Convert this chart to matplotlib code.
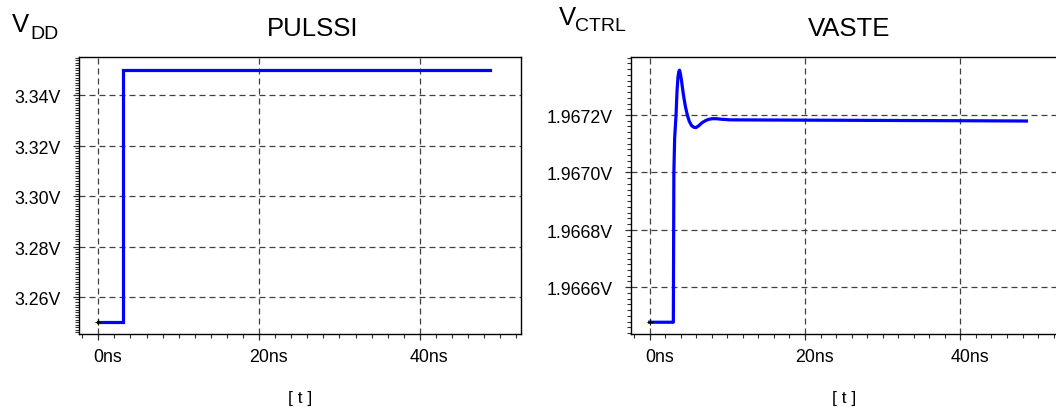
import matplotlib
matplotlib.use("Agg")
import matplotlib.pyplot as plt
from matplotlib.ticker import MultipleLocator, FixedLocator, FormatStrFormatter
from matplotlib.transforms import ScaledTranslation

plt.rcParams['font.family'] = ['Liberation Sans', 'DejaVu Sans']

# Supply pulse (ns, V)
t_pulse = [0.0, 3.1, 3.1, 48.7]
v_pulse = [3.25, 3.25, 3.35, 3.35]

# Control voltage response (ns, V)
t_ctrl = [0.0, 3.05, 3.12, 3.22, 3.40, 3.52, 3.64, 3.76, 3.85, 3.95, 4.10,
          4.35, 4.60, 4.85, 5.10, 5.40, 5.70, 5.97, 6.30, 6.70, 7.10, 7.50,
          8.00, 8.60, 9.30, 10.4, 20.0, 30.0, 40.0, 48.5]
v_ctrl = [1.966478, 1.966478, 1.967000, 1.967120, 1.967200, 1.967280,
          1.967330, 1.967352, 1.967356, 1.967345, 1.967320, 1.967270,
          1.967230, 1.967200, 1.967178, 1.967163, 1.967157, 1.967156,
          1.967162, 1.967172, 1.967179, 1.967184, 1.967187, 1.967187,
          1.967185, 1.967183, 1.967182, 1.967181, 1.967180, 1.967179]

x_major = [0, 20, 40]
pulse_yticks = [3.26, 3.28, 3.30, 3.32, 3.34]
ctrl_yticks = [1.9666, 1.9668, 1.9670, 1.9672]

W, H = 1056, 407
fig = plt.figure(figsize=(W / 100, H / 100), dpi=100)

XL = (-2.45, 52.6)
blue = '#0000ff'
grid_kw = dict(color='#404040', linestyle=(0, (4.8, 3.2)), linewidth=0.9)


def px_box(x0, x1, ytop, ybot):
    return [x0 / W, 1 - ybot / H, (x1 - x0) / W, (ybot - ytop) / H]


def style(ax, yminor, yfmt, ylim):
    ax.set_xlim(*XL)
    ax.set_ylim(*ylim)
    ax.xaxis.set_major_locator(FixedLocator(x_major))
    ax.xaxis.set_minor_locator(MultipleLocator(2))
    ax.xaxis.set_major_formatter(FormatStrFormatter('%dns'))
    ax.yaxis.set_minor_locator(MultipleLocator(yminor))
    ax.yaxis.set_major_formatter(FormatStrFormatter(yfmt))
    ax.grid(True, which='major', **grid_kw)
    ax.set_axisbelow(True)
    for s in ax.spines.values():
        s.set_linewidth(1.0)
        s.set_color('black')
    ax.tick_params(which='major', length=4.5, width=0.9, color='#303030',
                   labelsize=12.8, direction='out')
    ax.tick_params(which='minor', length=3, width=0.8, color='#303030',
                   direction='out')
    ax.tick_params(axis='y', which='major', pad=8.5)
    ax.tick_params(axis='x', which='major', pad=6.5)
    shift = ScaledTranslation(9.5 / 100, 0, fig.dpi_scale_trans)
    for tk in ax.xaxis.get_major_ticks():
        tk.label1.set_transform(tk.label1.get_transform() + shift)
    dshift = ScaledTranslation(0, -1.5 / 100, fig.dpi_scale_trans)
    for tk in ax.yaxis.get_major_ticks():
        tk.label1.set_transform(tk.label1.get_transform() + dshift)


# Left: supply pulse
ax1 = fig.add_axes(px_box(78.6, 521.2, 57, 334))
ax1.yaxis.set_major_locator(FixedLocator(pulse_yticks))
ax1.plot(t_pulse, v_pulse, color=blue, lw=2.3, solid_joinstyle='miter',
         zorder=3)
ax1.plot(t_pulse[0], v_pulse[0], marker='+', color='black', ms=5, mew=0.8,
         zorder=4)
style(ax1, 0.001, '%.2fV', (3.2453, 3.3552))

# Right: control voltage
ax2 = fig.add_axes(px_box(630.6, 1058.3, 57, 334))
ax2.yaxis.set_major_locator(FixedLocator(ctrl_yticks))
ax2.plot(t_ctrl, v_ctrl, color=blue, lw=2.3, zorder=3)
ax2.plot(t_ctrl[0], v_ctrl[0], marker='+', color='black', ms=5, mew=0.8,
         zorder=4)
style(ax2, 0.00002, '%.4fV', (1.966437, 1.967402))

# Titles and axis names
fig.text(312.5 / W, 1 - 36.5 / H, 'PULSSI', fontsize=18.5, ha='center',
         va='baseline')
fig.text(848.6 / W, 1 - 35.5 / H, 'VASTE', fontsize=18.5, ha='center',
         va='baseline')

fig.text(12.0 / W, 1 - 32.3 / H, 'V', fontsize=18.5, ha='left', va='baseline')
fig.text(30.0 / W, 1 - 39.0 / H, 'DD', fontsize=14, ha='left', va='baseline')
fig.text(559.0 / W, 1 - 25.3 / H, 'V', fontsize=18.5, ha='left', va='baseline')
fig.text(575.0 / W, 1 - 31.0 / H, 'CTRL', fontsize=14, ha='left',
         va='baseline')

fig.text(299.8 / W, 1 - 398.8 / H, '[ t ]', fontsize=12.5, ha='center',
         va='center')
fig.text(844.4 / W, 1 - 398.8 / H, '[ t ]', fontsize=12.5, ha='center',
         va='center')

fig.savefig('out.png', dpi=100)
